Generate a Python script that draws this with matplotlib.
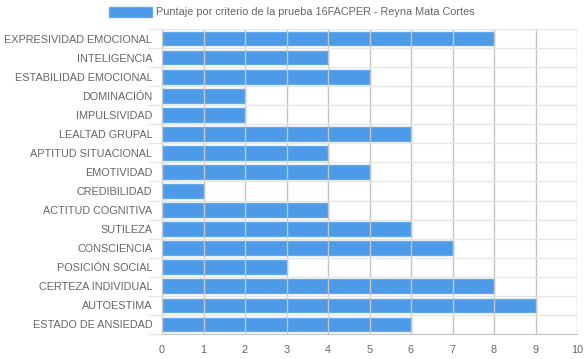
import numpy as np
import matplotlib
matplotlib.use('Agg')
import matplotlib.pyplot as plt

categories = ['EXPRESIVIDAD EMOCIONAL', 'INTELIGENCIA', 'ESTABILIDAD EMOCIONAL',
              'DOMINACIÓN', 'IMPULSIVIDAD', 'LEALTAD GRUPAL', 'APTITUD SITUACIONAL',
              'EMOTIVIDAD', 'CREDIBILIDAD', 'ACTITUD COGNITIVA', 'SUTILEZA',
              'CONSCIENCIA', 'POSICIÓN SOCIAL', 'CERTEZA INDIVIDUAL', 'AUTOESTIMA',
              'ESTADO DE ANSIEDAD']
scores = [8, 4, 5, 2, 2, 6, 4, 5, 1, 4, 6, 7, 3, 8, 9, 6]
series_label = 'Puntaje por criterio de la prueba 16FACPER - Reyna Mata Cortes'
x_ticks = list(range(0, 11))

plt.rcParams['font.family'] = ['Liberation Sans', 'DejaVu Sans']
fs = 7.8

fig = plt.figure(figsize=(5.84, 3.59), dpi=100)
ax = fig.add_axes([162 / 584, 25 / 359, 415 / 584, 305 / 359])

y = np.arange(len(categories))
ax.barh(y, scores, height=0.72, color='#3a90e6', alpha=0.9,
        edgecolor='#5aa5ee', linewidth=1, label=series_label, zorder=1)

ax.set_xlim(0, 10)
ax.set_ylim(len(categories) - 0.5, -0.5)
ax.set_xticks(x_ticks)
ax.set_yticks(y)
ax.set_yticklabels(categories)
ax.set_yticks(np.arange(-0.5, len(categories)), minor=True)

ax.grid(axis='x', color='#c4c4c4', linewidth=1, zorder=2)
ax.grid(axis='y', which='minor', color='#e6e6e6', linewidth=1, zorder=0)
ax.set_axisbelow(False)

ax.tick_params(axis='x', length=0, labelsize=fs, labelcolor='#666666', pad=8)
ax.tick_params(axis='y', which='major', length=0, labelsize=fs,
               labelcolor='#666666', pad=7)
ax.tick_params(axis='y', which='minor', length=10, color='#e6e6e6', width=1)

for side in ['top', 'right']:
    ax.spines[side].set_visible(False)
ax.spines['left'].set_color('#c4c4c4')
ax.spines['bottom'].set_color('#c4c4c4')

fig.legend(loc='center', bbox_to_anchor=(0.5, 1 - 12 / 359), frameon=False,
           fontsize=fs, labelcolor='#666666', handlelength=3.9,
           handleheight=1.1, handletextpad=0.4)

plt.savefig('out.png', dpi=100)
